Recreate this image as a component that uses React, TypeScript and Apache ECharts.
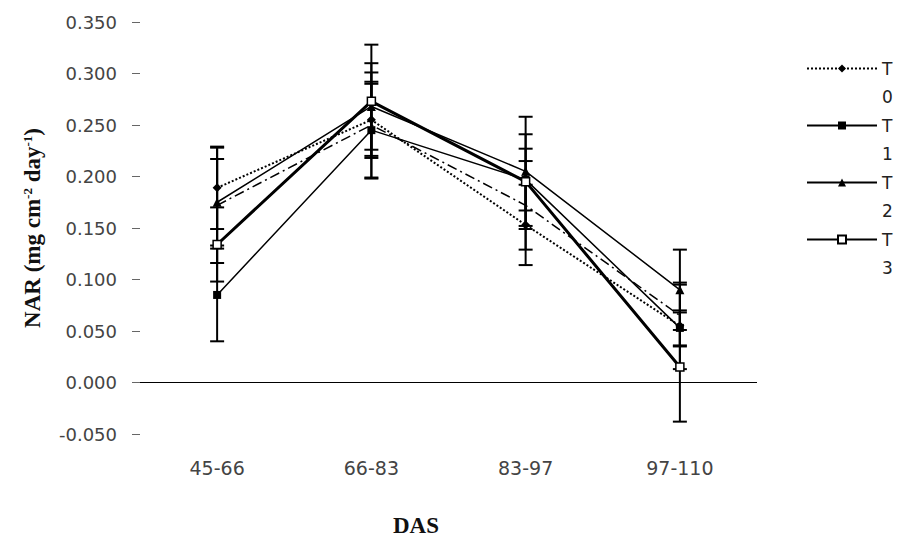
import React, { useEffect, useRef } from "react";
import * as echarts from "echarts";

const categories = ["45-66", "66-83", "83-97", "97-110"];
const seriesNames = ["T0", "T1", "T2", "T3", "T4"];
const legendNames = ["T0", "T1", "T2", "T3"];

const t0 = [0.189, 0.255, 0.153, 0.055];
const t1 = [0.085, 0.245, 0.197, 0.053];
const t2 = [0.175, 0.268, 0.205, 0.09];
const t3 = [0.134, 0.273, 0.195, 0.015];
const t4 = [0.172, 0.25, 0.172, 0.065];

const t0Err = [0.04, 0.035, 0.039, 0.042];
const t1Err = [0.045, 0.047, 0.03, 0.017];
const t2Err = [0.042, 0.042, 0.053, 0.039];
const t3Err = [0.036, 0.055, 0.046, 0.053];
const t4Err = [0.056, 0.051, 0.043, 0.03];

const yTicks = { min: -0.05, max: 0.35, interval: 0.05 };

const values = [t0, t1, t2, t3, t4];
const errors = [t0Err, t1Err, t2Err, t3Err, t4Err];

const styles = [
  { line: { type: "dotted", width: 2 }, symbol: "diamond", size: 9, fill: "#000" },
  { line: { type: "solid", width: 1.5 }, symbol: "rect", size: 8, fill: "#000" },
  { line: { type: "solid", width: 1.5 }, symbol: "triangle", size: 9, fill: "#000" },
  { line: { type: "solid", width: 3 }, symbol: "rect", size: 8, fill: "#fff" },
  { line: { type: [10, 4, 2, 4], width: 1.5 }, symbol: "none", size: 0, fill: "#000" },
];

export default function App() {
  const ref = useRef<HTMLDivElement>(null);
  useEffect(() => {
    if (!ref.current) return;
    document.body.style.margin = "0";
    const chart = echarts.init(ref.current, null, { renderer: "svg" });

    const lineSeries: any[] = seriesNames.map((name, i) => ({
      name,
      type: "line",
      data: values[i],
      symbol: styles[i].symbol,
      symbolSize: styles[i].size,
      lineStyle: { color: "#000", width: styles[i].line.width, type: styles[i].line.type },
      itemStyle: { color: styles[i].fill, borderColor: "#000", borderWidth: i === 3 ? 1.5 : 0 },
      z: 3,
      ...(i === 0
        ? {
            markLine: {
              silent: true,
              symbol: ["none", "none"],
              label: { show: false },
              lineStyle: { color: "#000", type: "solid", width: 1 },
              data: [{ yAxis: 0 }],
            },
          }
        : {}),
    }));

    const errSeries: any[] = seriesNames.map((name, i) => ({
      name: name + " err",
      type: "custom",
      z: 2,
      silent: true,
      encode: { x: 0, y: [1, 2] },
      data: categories.map((_, k) => [k, values[i][k] - errors[i][k], values[i][k] + errors[i][k]]),
      renderItem: (params: any, api: any) => {
        const x = api.value(0);
        const top = api.coord([x, api.value(2)]);
        const bot = api.coord([x, api.value(1)]);
        const w = 7;
        const st = { stroke: "#000", lineWidth: 2 };
        return {
          type: "group",
          children: [
            { type: "line", shape: { x1: top[0], y1: top[1], x2: bot[0], y2: bot[1] }, style: st },
            { type: "line", shape: { x1: top[0] - w, y1: top[1], x2: top[0] + w, y2: top[1] }, style: st },
            { type: "line", shape: { x1: bot[0] - w, y1: bot[1], x2: bot[0] + w, y2: bot[1] }, style: st },
          ],
        };
      },
    }));

    chart.setOption({
      animation: false,
      backgroundColor: "#fff",
      grid: { left: 140, right: 142, top: 22, bottom: 104, containLabel: false },
      legend: {
        data: legendNames,
        orient: "vertical",
        left: 806,
        top: 32,
        padding: 0,
        itemWidth: 70,
        itemHeight: 10,
        itemGap: -16,
        formatter: (n: string) => "{a| }\n{a|" + n.slice(0, 1) + "}\n{a|" + n.slice(1) + "}",
        textStyle: {
          rich: {
            a: {
              fontFamily: "DejaVu Sans",
              fontSize: 17,
              color: "#222",
              lineHeight: 28,
            },
          },
        },
      },
      xAxis: {
        type: "category",
        data: categories,
        boundaryGap: true,
        axisLine: { show: false },
        axisTick: { show: false },
        axisLabel: {
          margin: 24,
          fontFamily: "DejaVu Sans",
          fontSize: 19,
          color: "#444",
        },
      },
      yAxis: {
        type: "value",
        min: yTicks.min,
        max: yTicks.max,
        interval: yTicks.interval,
        splitLine: { show: false },
        axisLine: { show: false },
        axisTick: { show: true, length: 8, lineStyle: { color: "#666" } },
        axisLabel: {
          margin: 23,
          fontFamily: "DejaVu Sans",
          fontSize: 18,
          color: "#444",
          formatter: (v: number) => v.toFixed(3),
        },
        name: "{a|NAR (mg cm}{s|-2}{a| day}{s|-1}{a|)}",
        nameLocation: "middle",
        nameGap: 96,
        nameRotate: 90,
        nameTextStyle: {
          rich: {
            a: { fontFamily: "Liberation Serif", fontWeight: "bold", fontSize: 23, color: "#111" },
            s: { fontFamily: "Liberation Serif", fontWeight: "bold", fontSize: 13, color: "#111", verticalAlign: "top", padding: [0, 0, 10, 0] },
          },
        },
      },
      graphic: [
        {
          type: "text",
          left: 393,
          top: 514,
          style: {
            text: "DAS",
            fontFamily: "Liberation Serif",
            fontWeight: "bold",
            fontSize: 23,
            fill: "#111",
          },
        },
      ],
      series: [...errSeries, ...lineSeries],
    });
    return () => chart.dispose();
  }, []);
  return <div ref={ref} style={{ position: "absolute", left: 0, top: 0, width: 899, height: 538 }} />;
}
